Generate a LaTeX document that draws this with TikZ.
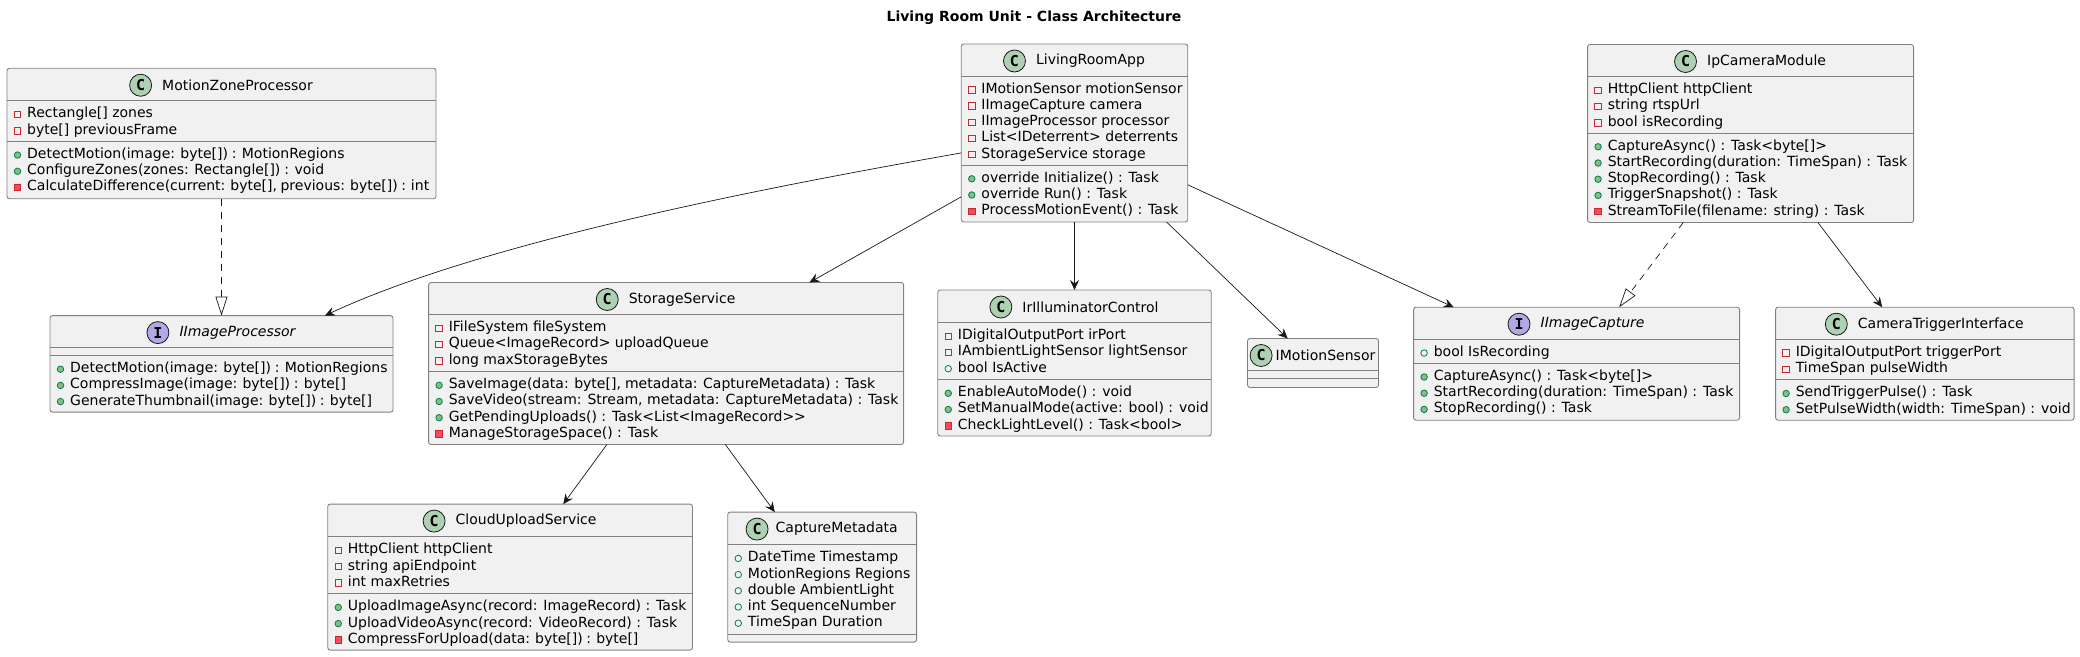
\documentclass[tikz,border=0pt]{standalone}
\usepackage{fontspec}
\setmainfont{DejaVu Sans}
\newfontfamily\iconfont{DejaVu Sans Mono}[BoldFont={DejaVu Sans Mono Bold}]
\usetikzlibrary{arrows.meta,positioning}

\definecolor{boxfill}{HTML}{F1F1F1}
\definecolor{boxline}{HTML}{808080}
\definecolor{linkline}{HTML}{181818}
\definecolor{classicon}{HTML}{ADD1B2}
\definecolor{ifaceicon}{HTML}{B4A7E5}
\definecolor{privline}{HTML}{C82930}
\definecolor{privfill}{HTML}{F24D5C}
\definecolor{publine}{HTML}{038048}
\definecolor{pubfill}{HTML}{84BE84}

% class head: box, icon style, gap, letter, name
\newcommand{\classhead}[5]{
  \node[headname, xshift=11pt+0.5*#3pt] (#1name) at ([yshift=-17pt]#1.north) {#5};
  \node[#2, left=#3pt of #1name] (#1icon) {#4};
}
% compartment rule at an offset below the top of the box
\newcommand{\classrule}[2]{
  \draw[sep] ([yshift=-#2pt]#1.north west) -- ([yshift=-#2pt]#1.north east);
}
% member rows: box, part, offset of first row, list of marker/text
\newcommand{\classrows}[4]{
  \foreach \k/\t [count=\idx from 0] in {#4} {
    \pgfmathsetmacro\rowy{#3+16.2*\idx}
    \node[\k] (#1#2m\idx) at ([shift={(10.5pt,-\rowy pt-1.3pt)}]#1.north west) {};
    \node[row] (#1#2t\idx) at ([shift={(20pt,-\rowy pt-2pt)}]#1.north west) {\t};
  }
}

\begin{document}
\begin{tikzpicture}[
  x=1pt, y=-1pt,
  classnode/.style={draw=boxline, fill=boxfill, line width=0.9pt, rounded corners=2.5pt, inner sep=0pt, outer sep=0pt},
  sep/.style={draw=boxline, line width=0.9pt},
  headname/.style={inner sep=0pt, font=\fontsize{14}{16}\selectfont},
  row/.style={anchor=mid west, inner sep=0pt, font=\fontsize{14}{16}\selectfont},
  iconc/.style={circle, draw=linkline, fill=classicon, line width=0.8pt, minimum size=22pt, inner sep=0pt, font=\iconfont\bfseries\fontsize{15}{15}\selectfont},
  iconi/.style={iconc, fill=ifaceicon},
  privf/.style={rectangle, draw=privline, minimum size=6.5pt, inner sep=0pt, line width=0.8pt},
  privm/.style={privf, fill=privfill},
  pubf/.style={circle, draw=publine, minimum size=6.5pt, inner sep=0pt, line width=0.8pt},
  pubm/.style={pubf, fill=pubfill},
  assoc/.style={draw=linkline, line width=0.7pt, -{Stealth[length=10pt, width=9pt, inset=3.5pt]}},
  impl/.style={draw=linkline, line width=0.7pt, dashed, dash pattern=on 7pt off 6pt, -{Triangle[open, fill=white, length=19pt, width=12pt]}},
]
  \useasboundingbox (0,0) rectangle (2080,656);
  \node[font=\bfseries\fontsize{14}{16}\selectfont, inner sep=0pt] (title) at (1034,18) {Living Room Unit - Class Architecture};

  % Top row
  \node[classnode, minimum width=226.5pt, minimum height=178pt] (app) at (1074.5,133) {};
  \node[classnode, minimum width=429pt, minimum height=130.5pt, left=525.25pt of app, yshift=-0.5pt] (zone) {};
  \node[classnode, minimum width=326pt, minimum height=178pt, right=399.8pt of app, yshift=-0.5pt] (camera) {};

  % Middle row
  \node[classnode, minimum width=273.5pt, minimum height=146pt, below=68pt of app] (ir) {};
  \node[classnode, minimum width=475pt, minimum height=162pt, left=34.15pt of ir, yshift=-0.5pt] (storage) {};
  \node[classnode, minimum width=343pt, minimum height=96.5pt, left=35.6pt of storage, yshift=-0.35pt] (proc) {};
  \node[classnode, minimum width=131pt, minimum height=49pt, right=36.25pt of ir] (motion) {};
  \node[classnode, minimum width=326pt, minimum height=113pt, right=35.1pt of motion, yshift=-0.7pt] (capture) {};
  \node[classnode, minimum width=298.5pt, minimum height=113pt, right=36pt of capture] (trigger) {};

  % Bottom row
  \node[classnode, minimum width=364.7pt, minimum height=146pt, below=59.6pt of storage, xshift=-156pt] (cloud) {};
  \node[classnode, minimum width=188.8pt, minimum height=130pt, right=35.3pt of cloud] (meta) {};

  % Heads
  \classhead{app}{iconc}{10}{C}{LivingRoomApp}
  \classhead{zone}{iconc}{10}{C}{MotionZoneProcessor}
  \classhead{camera}{iconc}{10}{C}{IpCameraModule}
  \classhead{ir}{iconc}{10}{C}{IrIlluminatorControl}
  \classhead{storage}{iconc}{10}{C}{StorageService}
  \classhead{proc}{iconi}{10}{I}{\itshape IImageProcessor}
  \classhead{motion}{iconc}{3}{C}{IMotionSensor}
  \classhead{capture}{iconi}{10}{I}{\itshape IImageCapture}
  \classhead{trigger}{iconc}{10}{C}{CameraTriggerInterface}
  \classhead{cloud}{iconc}{10}{C}{CloudUploadService}
  \classhead{meta}{iconc}{7}{C}{CaptureMetadata}

  % Compartments
  \foreach \b/\m in {app/121, zone/73, camera/89, ir/89, storage/89, proc/40, motion/40, capture/56, trigger/72, cloud/89.5, meta/122} {
    \classrule{\b}{32}
    \classrule{\b}{\m}
  }

  % Members
  \classrows{app}{a}{44.5}{privf/{IMotionSensor motionSensor}, privf/{IImageCapture camera}, privf/{IImageProcessor processor}, privf/{List<IDeterrent> deterrents}, privf/{StorageService storage}}
  \classrows{app}{b}{133.5}{pubm/{override Initialize() : Task}, pubm/{override Run() : Task}, privm/{ProcessMotionEvent() : Task}}
  \classrows{zone}{a}{45}{privf/{Rectangle[] zones}, privf/{byte[] previousFrame}}
  \classrows{zone}{b}{85.5}{pubm/{\spaceskip=3.8pt DetectMotion(image: byte[]) : MotionRegions}, pubm/{\spaceskip=3.95pt ConfigureZones(zones: Rectangle[]) : void}, privm/{\spaceskip=3.5pt CalculateDifference(current: byte[], previous: byte[]) : int}}
  \classrows{camera}{a}{44.5}{privf/{HttpClient httpClient}, privf/{string rtspUrl}, privf/{bool isRecording}}
  \classrows{camera}{b}{101}{pubm/{CaptureAsync() : Task<byte[]>}, pubm/{StartRecording(duration: TimeSpan) : Task}, pubm/{StopRecording() : Task}, pubm/{TriggerSnapshot() : Task}, privm/{StreamToFile(filename: string) : Task}}
  \classrows{ir}{a}{45}{privf/{IDigitalOutputPort irPort}, privf/{IAmbientLightSensor lightSensor}, pubf/{bool IsActive}}
  \classrows{ir}{b}{102}{pubm/{EnableAutoMode() : void}, pubm/{SetManualMode(active: bool) : void}, privm/{CheckLightLevel() : Task<bool>}}
  \classrows{storage}{a}{44.5}{privf/{IFileSystem fileSystem}, privf/{Queue<ImageRecord> uploadQueue}, privf/{long maxStorageBytes}}
  \classrows{storage}{b}{101.5}{pubm/{\spaceskip=4.1pt SaveImage(data: byte[], metadata: CaptureMetadata) : Task}, pubm/{SaveVideo(stream: Stream, metadata: CaptureMetadata) : Task}, pubm/{GetPendingUploads() : Task<List<ImageRecord>{>}}, privm/{ManageStorageSpace() : Task}}
  \classrows{proc}{b}{52.3}{pubm/{\spaceskip=3.8pt DetectMotion(image: byte[]) : MotionRegions}, pubm/{\spaceskip=3.7pt CompressImage(image: byte[]) : byte[]}, pubm/{\spaceskip=3.7pt GenerateThumbnail(image: byte[]) : byte[]}}
  \classrows{capture}{a}{44.5}{pubf/{bool IsRecording}}
  \classrows{capture}{b}{68.5}{pubm/{CaptureAsync() : Task<byte[]>}, pubm/{StartRecording(duration: TimeSpan) : Task}, pubm/{StopRecording() : Task}}
  \classrows{trigger}{a}{44.5}{privf/{IDigitalOutputPort triggerPort}, privf/{TimeSpan pulseWidth}}
  \classrows{trigger}{b}{85}{pubm/{SendTriggerPulse() : Task}, pubm/{SetPulseWidth(width: TimeSpan) : void}}
  \classrows{cloud}{a}{45}{privf/{HttpClient httpClient}, privf/{string apiEndpoint}, privf/{int maxRetries}}
  \classrows{cloud}{b}{102}{pubm/{UploadImageAsync(record: ImageRecord) : Task}, pubm/{UploadVideoAsync(record: VideoRecord) : Task}, privm/{\spaceskip=3.6pt CompressForUpload(data: byte[]) : byte[]}}
  \classrows{meta}{a}{45}{pubf/{DateTime Timestamp}, pubf/{MotionRegions Regions}, pubf/{double AmbientLight}, pubf/{int SequenceNumber}, pubf/{TimeSpan Duration}}

  % Connectors
  \draw[assoc] (app) to[out=190, in=25, looseness=0.7] (proc);
  \draw[assoc] (app) -- (storage);
  \draw[assoc] (app) -- (ir);
  \draw[assoc] (app) -- (motion);
  \draw[assoc] (app) -- (capture);
  \draw[impl] (zone) -- (proc);
  \draw[impl] (camera) -- (capture);
  \draw[assoc] (camera) -- (trigger);
  \draw[assoc] (storage) -- (cloud);
  \draw[assoc] (storage) -- (meta);
\end{tikzpicture}
\end{document}
